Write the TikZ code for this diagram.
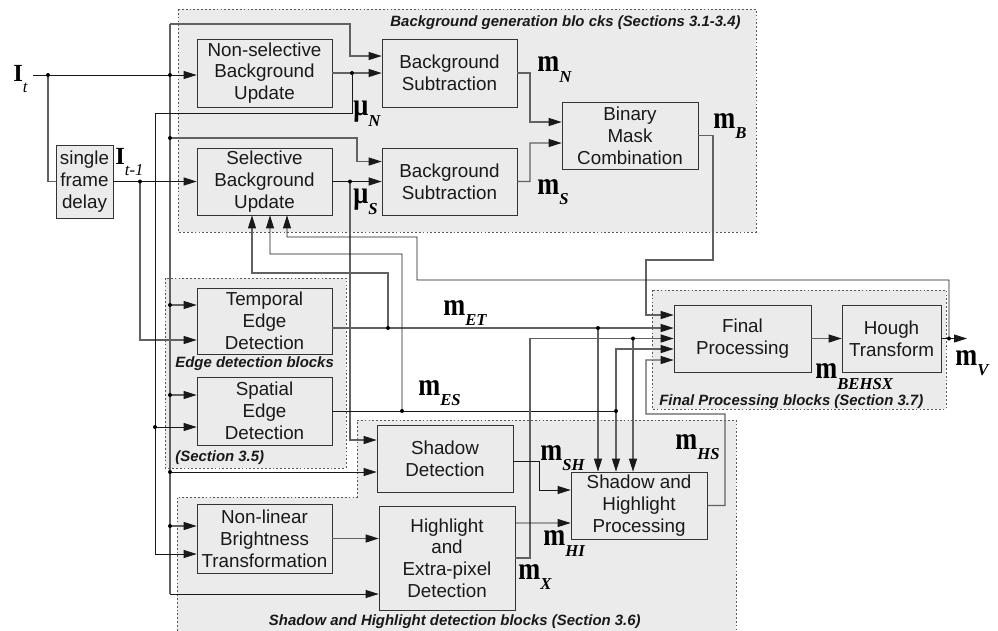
\documentclass[tikz,border=0pt]{standalone}
\usepackage{fontspec}
\setmainfont{Liberation Sans}
\newfontfamily\tmsfont{Liberation Serif}
\usetikzlibrary{arrows.meta,calc}
\newcommand{\boxfont}{\fontsize{10.7}{12.4}\selectfont}
\newcommand{\sigm}[2]{{\tmsfont\bfseries\fontsize{15}{15}\selectfont\scalebox{1}[1.2]{#1}}\raisebox{-6pt}{\tmsfont\bfseries\itshape\fontsize{9.5}{10}\selectfont #2}}
\newcommand{\sigi}[2]{{\tmsfont\bfseries\fontsize{14}{14}\selectfont #1}\raisebox{-6pt}{\tmsfont\itshape\fontsize{9.5}{10}\selectfont #2}}

\begin{document}
\begin{tikzpicture}[x=0.02cm, y=-0.02cm, >={Triangle[length=2.6mm,width=1.6mm,color=black!90]},
	blk/.style={draw=black!80, fill=black!8, align=center, inner sep=0pt, font=\boxfont, text=black!90},
	grp/.style={draw=black!65, fill=black!8, dash pattern=on 1pt off 1.2pt, line width=0.5pt},
	wire/.style={black!90, line width=0.5pt},
	gwire/.style={black!62, line width=0.65pt},
	ttl/.style={font=\fontsize{8.5}{10}\selectfont\bfseries\itshape, inner sep=0pt, text=black!90},
	sig/.style={inner sep=0pt, anchor=west}]
	\useasboundingbox (0,0) rectangle (998,630);
	
	\draw[grp] (178,9) rectangle (756,232);
	\draw[grp] (165,278) rectangle (346,468);
	\draw[grp] (357,420) -- (736,420) -- (736,640) -- (177,640) -- (177,497) -- (357,497) -- cycle;
	\draw[grp] (652,290) rectangle (946,409);
	
	\node[ttl, anchor=east] (tbg) at (741,23) {Background generation blo cks (Sections 3.1-3.4)};
	\node[ttl, anchor=west] (tedge) at (175,364) {Edge detection blocks};
	\node[ttl, anchor=west] (tsec) at (175,458) {(Section 3.5)};
	\node[ttl, anchor=east] (tshl) at (641,622) {Shadow and Highlight detection blocks (Section 3.6)};
	\node[ttl, anchor=west] (tfin) at (659,402) {Final Processing blocks (Section 3.7)};
	
	\node[blk, minimum width=1.14cm, minimum height=1.46cm] (delay) at (84.5,181.5) {single\\frame\\delay};
	\node[blk, minimum width=2.7cm, minimum height=1.36cm] (nsbu) at (264.5,73) {Non-selective\\Background\\Update};
	\node[blk, minimum width=2.7cm, minimum height=1.36cm] (bs1) at (449.5,73) {Background\\Subtraction};
	\node[blk, minimum width=2.7cm, minimum height=1.34cm] (sbu) at (264.5,181.5) {Selective\\Background\\Update};
	\node[blk, minimum width=2.7cm, minimum height=1.34cm] (bs2) at (449.5,181.5) {Background\\Subtraction};
	\node[blk, minimum width=2.72cm, minimum height=1.34cm] (bmc) at (630,135.5) {Binary\\Mask\\Combination};
	\node[blk, minimum width=2.7cm, minimum height=1.32cm] (ted) at (264.5,321) {Temporal\\Edge\\Detection};
	\node[blk, minimum width=2.7cm, minimum height=1.36cm] (sed) at (264.5,411) {Spatial\\Edge\\Detection};
	\node[blk, minimum width=2.72cm, minimum height=1.34cm] (shd) at (445,458.5) {Shadow\\Detection};
	\node[blk, minimum width=2.7cm, minimum height=1.38cm] (nlbt) at (264.5,538.5) {Non-linear\\Brightness\\Transformation};
	\node[blk, minimum width=2.72cm, minimum height=2.08cm] (hed) at (447,558) {Highlight\\and\\Extra-pixel\\Detection};
	\node[blk, minimum width=2.72cm, minimum height=1.34cm] (shp) at (639,505.5) {Shadow and\\Highlight\\Processing};
	\node[blk, minimum width=2.74cm, minimum height=1.34cm] (fp) at (742.5,338.5) {Final\\Processing};
	\node[blk, minimum width=1.98cm, minimum height=1.34cm] (ht) at (891.5,338.5) {Hough\\Transform};
	
	\coordinate (its) at (33,75);
	\coordinate (d1) at (48,75);
	\coordinate (d2) at (170,75);
	\coordinate (d3) at (170,138);
	\coordinate (d4) at (170,305);
	\coordinate (d5) at (170,395);
	\coordinate (d6) at (170,472);
	\coordinate (d7) at (170,526);
	\coordinate (b1) at (170,594);
	\coordinate (d8) at (140,181.5);
	\coordinate (d9) at (352,73);
	\coordinate (d10) at (350,181.5);
	\coordinate (d11) at (155,427);
	\coordinate (d12) at (388,328);
	\coordinate (d13) at (598,328);
	\coordinate (d14) at (402,411);
	\coordinate (d15) at (616,411);
	\coordinate (d16) at (633,338.5);
	\coordinate (d17) at (949,338.5);
	\coordinate (mv) at (967,338.5);
	
	% current frame
	\draw[wire,->] (its) -- (nsbu.west |- d2);
	\draw[gwire] (d1) |- (delay.west);
	\draw[gwire] (170,24) -- (b1);
	\draw[gwire,->] (170,24) -| (350,56) -- ($(bs1.west)+(0,-17)$);
	\draw[gwire,->] (d3) -| (357,161.5) -- ($(bs2.west)+(0,-20)$);
	\draw[gwire,->] (d4) -- (ted.west |- d4);
	\draw[gwire,->] (d5) -- (sed.west |- d5);
	\draw[wire,->] (d6) -- (shd.west |- d6);
	\draw[gwire,->] (d7) -- (nlbt.west |- d7);
	\draw[wire,->] (b1) -- (hed.west |- b1);
	
	% previous frame
	\draw[wire,->] (delay.east) -- (sbu.west);
	\draw[gwire,->] (d8) |- ($(ted.west)+(0,19)$);
	
	% backgrounds
	\draw[gwire,->] (nsbu.east) -- (bs1.west);
	\draw[wire,->] (d9) |- (155,113) |- ($(nlbt.west)+(0,15.5)$);
	\draw[wire,->] (d11) -- (sed.west |- d11);
	\draw[wire,->] (sbu.east) -- (bs2.west);
	\draw[gwire,->] (d10) |- ($(shd.west)+(0,-18.5)$);
	
	% masks
	\draw[gwire,->] (bs1.east) -| (530,122) -- ($(bmc.west)+(0,-13.5)$);
	\draw[gwire,->] (bs2.east) -| (530,143) -- ($(bmc.west)+(0,7.5)$);
	\draw[gwire,->] (bmc.east) -| (713,260) -| (646,315) -- ($(fp.west)+(0,-23.5)$);
	\draw[gwire,->] ($(ted.east)+(0,7)$) -- ($(fp.west)+(0,-10.5)$);
	\draw[gwire,->] (d12) |- (252,273) -- ($(sbu.south)+(-12.5,0)$);
	\draw[gwire,->] (d13) -- (d13 |- shp.north);
	\draw[wire] (sed.east) -- (d15);
	\draw[wire,->] (d14) |- (270,254) -- ($(sbu.south)+(5.5,0)$);
	\draw[gwire,->] (d15) |- ($(fp.west)+(0,10.5)$);
	\draw[gwire,->] (d15) -- (d15 |- shp.north);
	\draw[gwire,->] (hed.east) -| (530,338.5) -- (fp.west);
	\draw[gwire,->] (d16) -- (d16 |- shp.north);
	\draw[gwire,->] (shp.east) -| (725,414) -| (646,360) -- ($(fp.west)+(0,21.5)$);
	\draw[wire,->] ($(shd.east)+(0,2.5)$) -| (539,490) -- ($(shp.west)+(0,-15.5)$);
	\draw[wire,->] ($(hed.east)+(0,-35)$) -- ($(shp.west)+(0,17.5)$);
	\draw[gwire,->] (nlbt.east) -- (hed.west |- nlbt.east);
	
	% output
	\draw[gwire,->] (fp.east) -- (ht.west);
	\draw[wire,->] (ht.east) -- (mv);
	\draw[wire,->] (d17) |- (417,280) |- (287,237) -- ($(sbu.south)+(22.5,0)$);
	
	\foreach \p in {d1,d2,d3,d4,d5,d6,d7,d8,d9,d10,d11,d12,d13,d14,d15,d16,d17}
		\fill (\p) circle[radius=0.04cm];
	
	\node[sig] (lit) at (13,79) {\sigi{I}{t}};
	\node[sig] (litp) at (115,162) {\sigi{I}{t-1}};
	\node[sig] (lmun) at (353,114) {\sigm{μ}{N}};
	\node[sig] (lmus) at (353,202) {\sigm{μ}{S}};
	\node[sig] (lmn) at (537,69.5) {\sigm{m}{N}};
	\node[sig] (lms) at (537,192) {\sigm{m}{S}};
	\node[sig] (lmb) at (713,126) {\sigm{m}{B}};
	\node[sig] (lmet) at (443,313) {\sigm{m}{ET}};
	\node[sig] (lmes) at (418,393) {\sigm{m}{ES}};
	\node[sig] (lmsh) at (540,458) {\sigm{m}{SH}};
	\node[sig] (lmhi) at (543,543.5) {\sigm{m}{HI}};
	\node[sig] (lmx) at (518,577) {\sigm{m}{X}};
	\node[sig] (lmhs) at (675,447) {\sigm{m}{HS}};
	\node[sig] (lmall) at (815,376.5) {\sigm{m}{BEHSX}};
	\node[sig] (lmv) at (955,363) {\sigm{m}{V}};
\end{tikzpicture}
\end{document}
